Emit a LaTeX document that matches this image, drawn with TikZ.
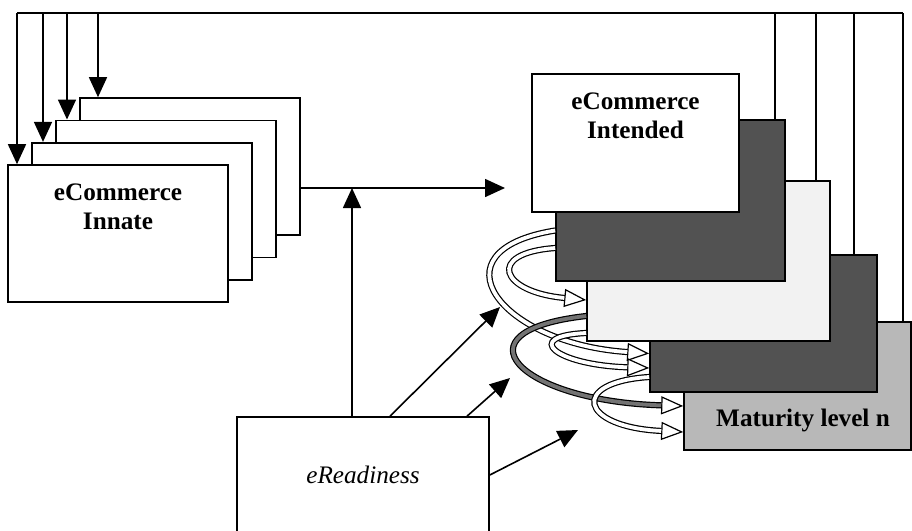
\documentclass[tikz,border=0pt]{standalone}
\usepackage{fontspec}
\setmainfont{Liberation Serif}
\usetikzlibrary{arrows.meta}

\begin{document}
\begin{tikzpicture}[x=0.5pt, y=-0.5pt]
  \tikzstyle{card} = [rectangle, draw, fill=white, line width=0.8pt, inner sep=0pt]
  \tikzstyle{title} = [font=\fontsize{12.6}{14.5}\selectfont\bfseries, align=center, inner sep=0pt]
  \tikzstyle{arrow} = [line width=0.8pt, -{Triangle[length=10pt, width=9pt]}]
  \tikzstyle{feedback} = [draw=white, line width=1.9pt, shorten >=11pt,
    preaction={draw=black, line width=3.1pt, shorten >=0pt, -{Triangle[fill=white, line width=0.6pt, length=11pt, width=9pt]}}]

  \useasboundingbox (0,0) rectangle (912,531);

  % eCommerce innate stack
  \node (i4) [card, minimum width=110pt, minimum height=68.5pt] at (190,166.5) {};
  \node (i3) [card, minimum width=110pt, minimum height=68.5pt] at (166,188.8) {};
  \node (i2) [card, minimum width=110pt, minimum height=68.5pt] at (142,211.2) {};
  \node (i1) [card, minimum width=110pt, minimum height=68.5pt] at (118,233.5) {};
  \node (innate) [title] at (118,207) {eCommerce\\Innate};

  % maturity levels
  \node (mat) [card, fill=black!28, minimum width=113.5pt, minimum height=64pt] at (797.5,386) {};
  \node (d2) [card, fill=black!68, minimum width=113.5pt, minimum height=68.5pt] at (763.5,323.5) {};
  \node (lt) [card, fill=black!5, minimum width=121.5pt, minimum height=80pt] at (708.5,261) {};
  \node (d1) [card, fill=black!68, minimum width=114.5pt, minimum height=80.5pt] at (670.5,200.5) {};
  \node (ci) [card, minimum width=103.5pt, minimum height=69pt] at (635.5,143) {};
  \node (intended) [title] at (635.5,116) {eCommerce\\Intended};
  \node (matlbl) [title] at (803,420) {Maturity level n};

  % eReadiness
  \node (er) [card, minimum width=126pt, minimum height=58pt, font=\fontsize{12.6}{14.5}\selectfont\itshape] at (363,475) {eReadiness};

  % Feedback bus
  \coordinate (busA) at (17,13);
  \coordinate (busB) at (43,13);
  \coordinate (busC) at (67,13);
  \coordinate (busD) at (98,13);
  \coordinate (busE) at (775,13);
  \coordinate (busF) at (816,13);
  \coordinate (busG) at (854,13);
  \coordinate (busH) at (903,13);
  \draw[line width=0.8pt] (busA) -- (busH);
  \draw[line width=0.8pt] (busE) -- (busE |- d1.north);
  \draw[line width=0.8pt] (busF) -- (busF |- lt.north);
  \draw[line width=0.8pt] (busG) -- (busG |- d2.north);
  \draw[line width=0.8pt] (busH) -- (busH |- mat.north);
  \draw[arrow] (busA) -- (busA |- i1.north);
  \draw[arrow] (busB) -- (busB |- i2.north);
  \draw[arrow] (busC) -- (busC |- i3.north);
  \draw[arrow] (busD) -- (busD |- i4.north);

  % Arrows
  \coordinate (split) at (352,188);
  \coordinate (tipin) at (505,188);
  \coordinate (tipa) at (500,307);
  \coordinate (tipb) at (510,378);
  \coordinate (tipc) at (578,430);
  \draw[arrow] (i4.east |- split) -- (tipin);
  \draw[arrow] (er.north -| split) -- (split);
  \draw[arrow] ([xshift=13.5pt]er.north) -- (tipa);
  \draw[arrow] ([xshift=52pt]er.north) -- (tipb);
  \draw[arrow] (er.east) -- (tipc);

  % Level transitions
  \draw[feedback] ([yshift=-15pt]d1.west) .. controls +(-125,20) and +(-150,-10) .. ([yshift=-15pt]d2.west);
  \draw[feedback] ([yshift=-23.75pt]d1.west) .. controls +(-70,5) and +(-86,-8) .. ([yshift=-19.5pt]lt.west);
  \draw[feedback, draw=black!55] ([yshift=-27.5pt]lt.west) .. controls +(-135,15) and +(-165,-5) .. ([yshift=-10pt]mat.west);
  \draw[feedback] ([yshift=-36pt]lt.west) .. controls +(-65,3) and +(-94,-3) .. ([yshift=-22.25pt]d2.west);
  \draw[feedback] ([yshift=-26.75pt]d2.west) .. controls +(-80,5) and +(-104,-5) .. ([yshift=-23pt]mat.west);

\end{tikzpicture}
\end{document}
